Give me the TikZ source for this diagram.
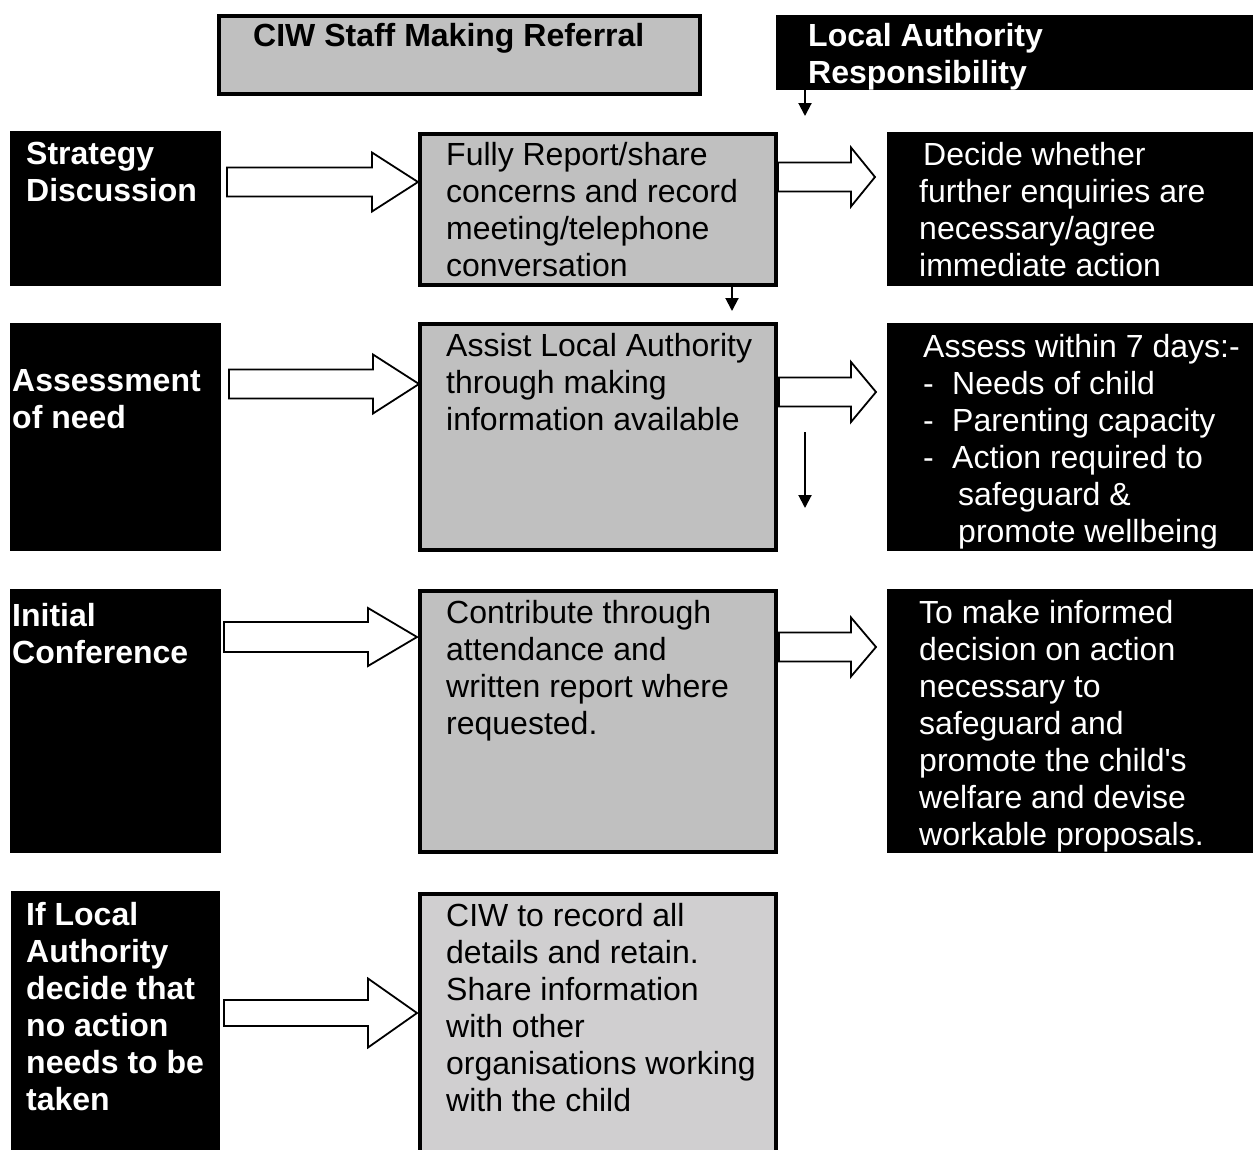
\documentclass[tikz,border=0pt]{standalone}
\usepackage{fontspec}
\setmainfont{Liberation Sans}[Ligatures=TeXOff]
\usetikzlibrary{arrows.meta,calc}
\definecolor{boxgray}{RGB}{192,192,192}
\definecolor{paleGray}{RGB}{208,207,208}
\newcommand\blockarrow[6]{% x0, head start, tip, y centre, shaft half, head half
  \draw[barrow] (#1,#4-#5) -- (#2,#4-#5) -- (#2,#4-#6) -- (#3,#4) -- (#2,#4+#6) -- (#2,#4+#5) -- (#1,#4+#5) -- cycle;}
\begin{document}
\begin{tikzpicture}[x=1pt,y=-1pt,
  blk/.style={fill=black, draw=none, inner sep=0pt, outer sep=0pt, anchor=north west},
  gbox/.style={fill=boxgray, draw=black, line width=4pt, inner sep=0pt, outer sep=0pt, anchor=north west},
  txt/.style={inner sep=0pt, anchor=north west, align=left, font=\fontsize{32}{37}\selectfont},
  wtxt/.style={txt, text=white},
  btxt/.style={txt, font=\fontsize{32}{37}\selectfont\bfseries},
  bwtxt/.style={btxt, text=white},
  barrow/.style={draw=black, fill=white, line width=1.8pt, line join=miter},
  sarrow/.style={line width=2pt, -{Triangle[width=13pt,length=13pt]}}
]
\clip (0,0) rectangle (1253,1149);
\fill[white] (0,0) rectangle (1253,1149);

% header boxes
\node[gbox, minimum width=481pt, minimum height=78pt] (H1) at (219,16) {};
\node[btxt] (H1t) at (253,23) {CIW Staff Making Referral};
\node[blk, minimum width=477pt, minimum height=75pt] (LA) at (776,15) {};
\node[bwtxt] (LAt) at (808,23) {Local Authority\\Responsibility};

% row 1
\node[blk, minimum width=211pt, minimum height=155pt] (L1) at (10,131) {};
\node[bwtxt] (L1t) at (26,142) {Strategy\\Discussion};
\node[gbox, minimum width=356pt, minimum height=151pt] (M1) at (420,134) {};
\node[txt] (M1t) at (446,142) {Fully Report/share\\concerns and record\\meeting/telephone\\conversation};
\node[blk, minimum width=366pt, minimum height=154pt] (R1) at (887,132) {};
\node[wtxt] (R1t) at (919,142) {\hspace*{4pt}Decide whether\\further enquiries are\\necessary/agree\\immediate action};

% row 2
\node[blk, minimum width=211pt, minimum height=228pt] (L2) at (10,323) {};
\node[bwtxt] (L2t) at (12,369) {Assessment\\of need};
\node[gbox, minimum width=356pt, minimum height=226pt] (M2) at (420,324) {};
\node[txt] (M2t) at (446,333) {Assist Local Authority\\through making\\information available};
\node[blk, minimum width=366pt, minimum height=228pt] (R2) at (887,323) {};
\node[wtxt] (R2t) at (923,334) {Assess within 7 days:-\\\makebox[29pt][l]{-}Needs of child\\\makebox[29pt][l]{-}Parenting capacity\\\makebox[29pt][l]{-}Action required to\\\hspace*{35pt}safeguard \&\\\hspace*{35pt}promote wellbeing};

% row 3
\node[blk, minimum width=211pt, minimum height=264pt] (L3) at (10,589) {};
\node[bwtxt] (L3t) at (12,603) {Initial\\Conference};
\node[gbox, minimum width=356pt, minimum height=261pt] (M3) at (420,591) {};
\node[txt] (M3t) at (446,600) {Contribute through\\attendance and\\written report where\\requested.};
\node[blk, minimum width=366pt, minimum height=264pt] (R3) at (887,589) {};
\node[wtxt] (R3t) at (919,600) {To make informed\\decision on action\\necessary to\\safeguard and\\promote the child's\\welfare and devise\\workable proposals.};

% row 4
\node[blk, minimum width=209pt, minimum height=270pt] (L4) at (11,891) {};
\node[bwtxt] (L4t) at (26,902) {If Local\\Authority\\decide that\\no action\\needs to be\\taken};
\node[gbox, fill=paleGray, minimum width=356pt, minimum height=280pt] (M4) at (420,894) {};
\node[txt] (M4t) at (446,903) {CIW to record all\\details and retain.\\Share information\\with other\\organisations working\\with the child};

% block arrows
\blockarrow{227}{372}{418}{182}{14.5}{29.5}
\blockarrow{778}{851}{875}{177}{14.5}{29.5}
\blockarrow{229}{373}{419}{384}{14.5}{29.5}
\blockarrow{779}{851}{876}{392}{14.5}{30}
\blockarrow{224}{368}{417}{637}{15}{29}
\blockarrow{779}{851}{876}{647}{14.5}{29.5}
\blockarrow{224}{368}{417}{1013}{13}{34.5}

% small arrows
\coordinate (d1) at (805,116);
\draw[sarrow] (LA.south west -| d1) -- (d1);
\coordinate (d2) at (732,311);
\draw[sarrow] (M1.south -| d2) -- (d2);
\coordinate (d3a) at (805,432);
\coordinate (d3b) at (805,508);
\draw[sarrow] (d3a) -- (d3b);
\end{tikzpicture}
\end{document}
